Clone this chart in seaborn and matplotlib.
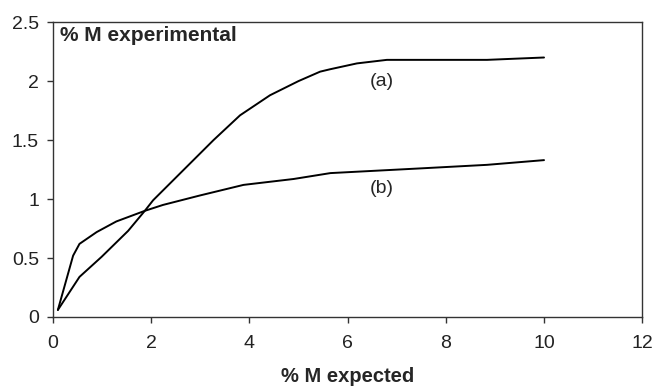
import matplotlib
import matplotlib.pyplot as plt
import pandas as pd
import seaborn as sns

matplotlib.use("Agg")

# curve (a)
a_x = [0.1, 0.54, 0.99, 1.53, 1.87, 2.04, 2.45, 3.27, 3.81, 4.42, 5.0, 5.44, 5.64, 6.19, 6.8, 7.49, 8.84, 10.0]
a_y = [0.06, 0.34, 0.51, 0.73, 0.90, 0.99, 1.16, 1.50, 1.71, 1.88, 2.00, 2.08, 2.10, 2.15, 2.18, 2.18, 2.18, 2.20]

# curve (b)
b_x = [0.1, 0.41, 0.54, 0.89, 1.29, 1.87, 2.24, 2.99, 3.88, 4.9, 5.65, 7.49, 8.84, 10.0]
b_y = [0.06, 0.52, 0.62, 0.72, 0.81, 0.90, 0.95, 1.03, 1.12, 1.17, 1.22, 1.26, 1.29, 1.33]

x_ticks = [0, 2, 4, 6, 8, 10, 12]
y_ticks = [0, 0.5, 1, 1.5, 2, 2.5]

df = pd.concat([
    pd.DataFrame({"x": a_x, "y": a_y, "curve": "a"}),
    pd.DataFrame({"x": b_x, "y": b_y, "curve": "b"}),
])

sns.set_style("ticks")
plt.rcParams["font.family"] = ["Liberation Sans", "DejaVu Sans"]

fig, ax = plt.subplots(figsize=(6.54, 3.88), dpi=100)
fig.subplots_adjust(left=0.081, right=0.982, top=0.943, bottom=0.183)

sns.lineplot(data=df, x="x", y="y", units="curve", estimator=None, sort=False,
             color="black", linewidth=1.4, ax=ax, legend=False)

ax.set_xlim(0, 12)
ax.set_ylim(0, 2.5)
ax.set_xticks(x_ticks)
ax.set_yticks(y_ticks)
ax.set_xticklabels([str(t) for t in x_ticks])
ax.set_yticklabels([f"{t:g}" for t in y_ticks])
ax.tick_params(axis="both", labelsize=14, length=4, width=1, color="#333333",
               labelcolor="#222222", direction="out")
ax.tick_params(axis="x", pad=9)
ax.tick_params(axis="y", pad=6)
for side in ["top", "right", "left", "bottom"]:
    ax.spines[side].set_visible(True)
    ax.spines[side].set_color("#333333")
    ax.spines[side].set_linewidth(1)

ax.set_xlabel("% M expected", fontsize=14.5, fontweight="bold", labelpad=11)
ax.set_ylabel("")
ax.text(0.012, 0.988, "% M experimental", transform=ax.transAxes, ha="left", va="top",
        fontsize=15, fontweight="bold")
ax.text(6.7, 2.0, "(a)", fontsize=14, ha="center", va="center")
ax.text(6.7, 1.09, "(b)", fontsize=14, ha="center", va="center")

fig.savefig("out.png", dpi=100)
